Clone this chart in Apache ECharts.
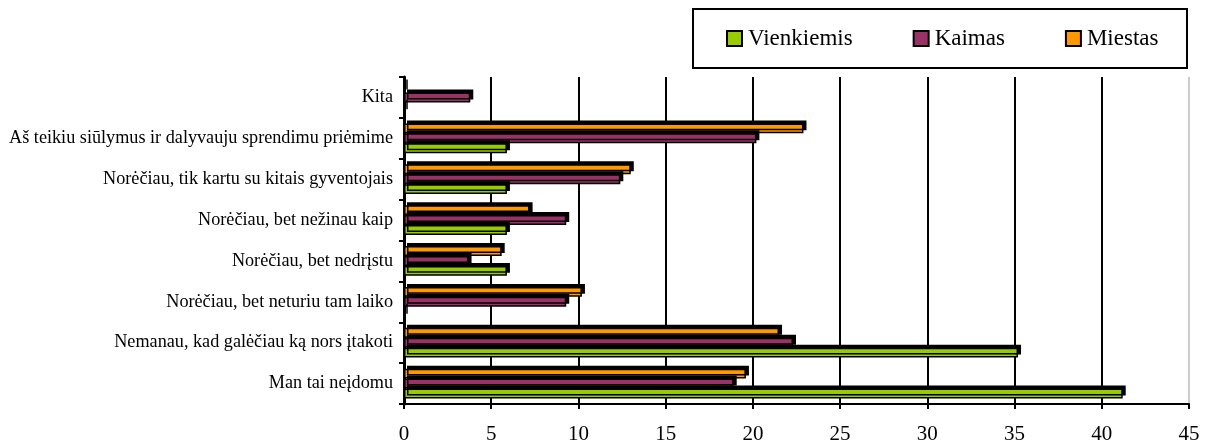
<!DOCTYPE html>
<html><head><meta charset="utf-8">
<script src="https://cdn.jsdelivr.net/npm/echarts@6/dist/echarts.min.js"></script>
<style>html,body{margin:0;padding:0;background:#fff}#c{width:1212px;height:445px}</style>
</head><body><div id="c"></div>
<script>
const categories = ['Man tai neįdomu','Nemanau, kad galėčiau ką nors įtakoti','Norėčiau, bet neturiu tam laiko','Norėčiau, bet nedrįstu','Norėčiau, bet nežinau kaip','Norėčiau, tik kartu su kitais gyventojais','Aš teikiu siūlymus ir dalyvauju sprendimu priėmime','Kita'];
const vienkiemis = [41.2, 35.2, 0, 5.9, 5.9, 5.9, 5.9, 0];
const kaimas = [18.9, 22.3, 9.3, 3.7, 9.3, 12.4, 20.2, 3.8];
const miestas = [19.6, 21.5, 10.2, 5.6, 7.2, 13.0, 22.9, 0];
const xTicks = [0,5,10,15,20,25,30,35,40,45];

const font = '"Liberation Serif", "Times New Roman", serif';
const chart = echarts.init(document.getElementById('c'), null, {renderer:'canvas'});
function s(name, data, color){
  return {name, type:'bar', data, barGap:'0%', barCategoryGap:'27%',
    itemStyle:{color, borderColor:'#000', borderWidth:1.5, shadowColor:'#000', shadowOffsetX:3, shadowOffsetY:-3, shadowBlur:0},
    emphasis:{disabled:true}, animation:false};
}
chart.setOption({
  animation:false,
  grid:{left:404, right:23, top:77, bottom:40},
  graphic:[{type:'rect', shape:{x:693, y:9, width:494, height:59}, style:{fill:'none', stroke:'#000', lineWidth:2}}],
  legend:{left:721, top:22, itemWidth:15, itemHeight:15, itemGap:60, icon:'rect',
    data:['Vienkiemis','Kaimas','Miestas'],
    itemStyle:{borderColor:'#000', borderWidth:2, shadowBlur:0, shadowOffsetX:0, shadowOffsetY:0},
    textStyle:{fontFamily:font, fontSize:23, color:'#000', padding:[0,0,0,1]}},
  xAxis:{type:'value', min:0, max:45, interval:5,
    axisLine:{show:true, lineStyle:{color:'#000', width:2}},
    axisTick:{show:true, length:5, lineStyle:{color:'#000', width:2}},
    axisLabel:{fontFamily:font, fontSize:21, color:'#000', margin:20, formatter:v=>xTicks.includes(v)?String(v):''},
    splitLine:{show:true, lineStyle:{color:['#000','#000','#000','#000','#000','#000','#000','#000','#000','#ccc'], width:2}}},
  yAxis:{type:'category', data:categories,
    axisLine:{show:true, lineStyle:{color:'#000', width:3}},
    axisTick:{show:true, length:5, lineStyle:{color:'#000', width:2}},
    axisLabel:{fontFamily:font, fontSize:18.2, color:'#000', margin:11}},
  series:[s('Miestas', miestas, '#ff9900'), s('Kaimas', kaimas, '#993366'), s('Vienkiemis', vienkiemis, '#99cc00')]
});
</script></body></html>
